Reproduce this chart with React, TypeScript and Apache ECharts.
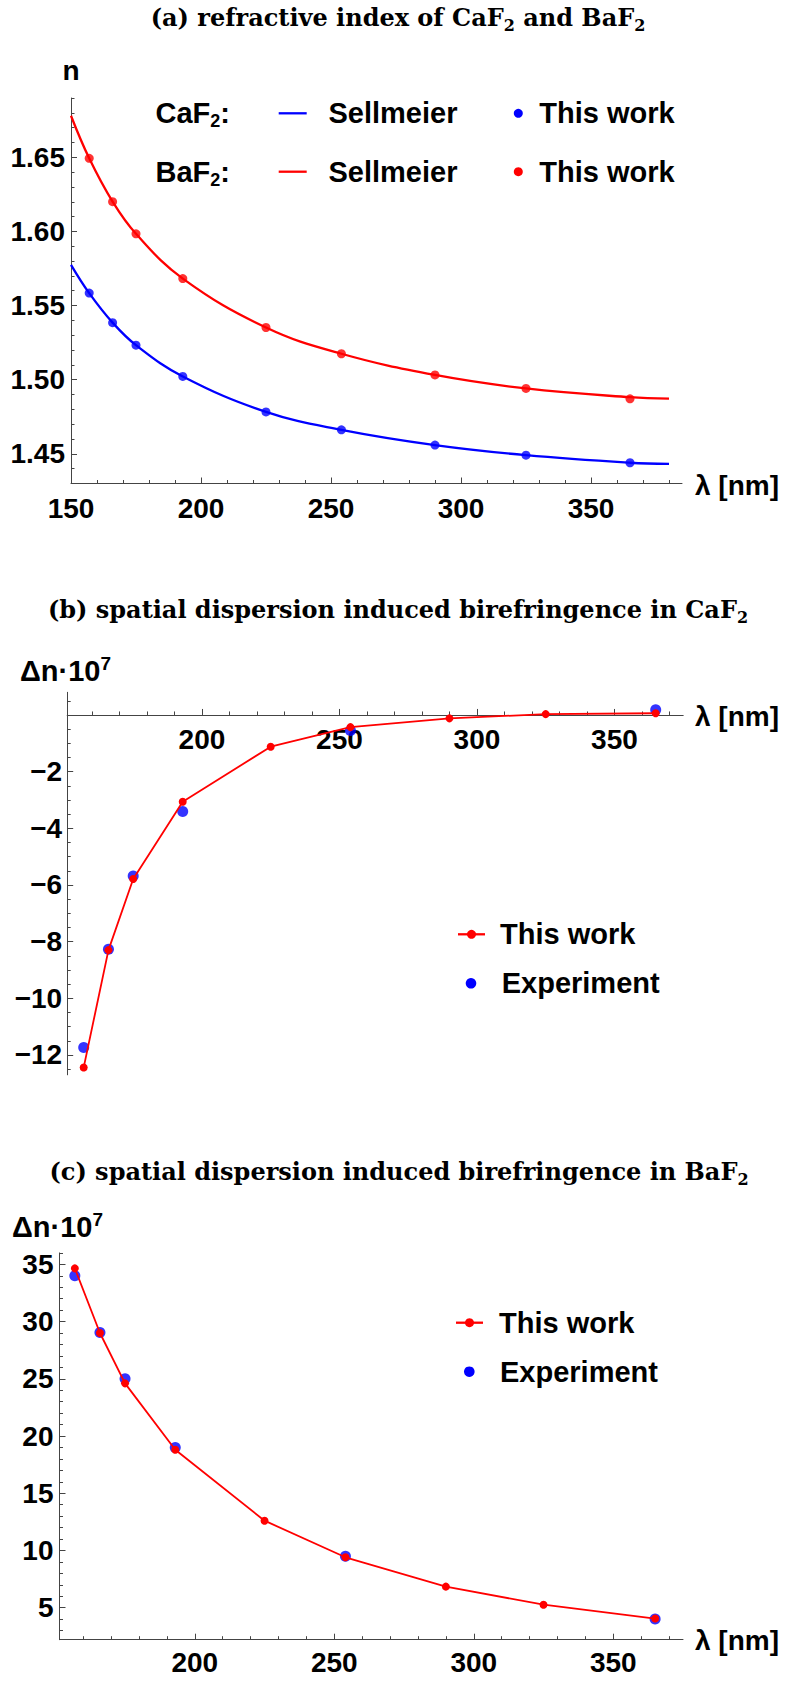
import React, { useEffect, useRef } from 'react';
import * as echarts from 'echarts';

// ---------- Panel (a): refractive index ----------
const wlPoints = [157, 166, 175, 193, 225, 254, 290, 325, 365];
const caf2ThisWork = [1.5584, 1.5385, 1.5233, 1.5022, 1.4783, 1.4662, 1.4559, 1.4491, 1.444];
const baf2ThisWork = [1.6493, 1.6201, 1.5984, 1.5682, 1.5352, 1.5175, 1.5032, 1.4941, 1.4871];
const wlSellmeier = [150, 157, 166, 175, 193, 225, 254, 290, 325, 365, 380];
const caf2Sellmeier = [1.5775, 1.5584, 1.5385, 1.5233, 1.5022, 1.4783, 1.4662, 1.4559, 1.4491, 1.444, 1.4432];
const baf2Sellmeier = [1.678, 1.6493, 1.6201, 1.5984, 1.5682, 1.5352, 1.5175, 1.5032, 1.4941, 1.4882, 1.4872];

const aXMajor = [150, 200, 250, 300, 350];
const aXMinor = [160, 170, 180, 190, 210, 220, 230, 240, 260, 270, 280, 290, 310, 320, 330, 340, 360, 370, 380];
const aYMajor = [1.45, 1.5, 1.55, 1.6, 1.65];
const aYMinor = [1.43, 1.44, 1.46, 1.47, 1.48, 1.49, 1.51, 1.52, 1.53, 1.54, 1.56, 1.57, 1.58, 1.59, 1.61, 1.62, 1.63, 1.64, 1.66, 1.67, 1.68, 1.69];

// ---------- Panel (b): CaF2 birefringence ----------
const wlThisWork = [157, 166, 175, 193, 225, 254, 290, 325, 365];
const wlExperiment = [157, 166, 175, 193, 254, 365];
const caf2DnThisWork = [-12.44, -8.3, -5.79, -3.06, -1.12, -0.43, -0.12, 0.03, 0.06];
const caf2DnExperiment = [-11.74, -8.27, -5.68, -3.41, -0.55, 0.18];

const bcXMajor = [200, 250, 300, 350];
const bcXMinor = [160, 170, 180, 190, 210, 220, 230, 240, 260, 270, 280, 290, 310, 320, 330, 340, 360, 370];
const bYMajor = [-12, -10, -8, -6, -4, -2];
const bYMinor = [-12.5, -11.5, -11, -10.5, -9.5, -9, -8.5, -7.5, -7, -6.5, -5.5, -5, -4.5, -3.5, -3, -2.5, -1.5, -1, -0.5, 0.5];

// ---------- Panel (c): BaF2 birefringence ----------
const baf2DnThisWork = [34.65, 29.0, 24.6, 18.8, 12.6, 9.4, 6.84, 5.26, 4.05];
const baf2DnExperiment = [34.0, 29.04, 25.0, 19.0, 9.5, 4.0];

const cYMajor = [5, 10, 15, 20, 25, 30, 35];
const cYMinor = [3, 4, 6, 7, 8, 9, 11, 12, 13, 14, 16, 17, 18, 19, 21, 22, 23, 24, 26, 27, 28, 29, 31, 32, 33, 34, 36];

const BLUE = '#0000ff';
const RED = '#ff0000';
const AXIS = '#444444';
const SANS = 'Liberation Sans';
const SERIF = 'DejaVu Serif';

const labelFont = { fontFamily: SANS, fontWeight: 'bold' as const, fontSize: 28, color: '#000' };

const zip = (xs: number[], ys: number[]) => xs.map((x, i) => [x, ys[i]]);

function makeAxes(dim: 'x' | 'y', grid: number, min: number, max: number, major: number[], minor: number[], margin: number, formatter: (v: number) => string, offset = 0) {
  const position = dim === 'x' ? 'bottom' : 'left';
  return [
    {
      type: 'value', gridIndex: grid, position, min, max, offset,
      splitLine: { show: false },
      axisLine: { show: true, onZero: false, lineStyle: { color: AXIS, width: 1 } },
      axisTick: { show: true, inside: true, length: 6, customValues: major, lineStyle: { color: AXIS, width: 1 } },
      axisLabel: { show: true, customValues: major, margin, ...labelFont, formatter },
    },
    {
      type: 'value', gridIndex: grid, position, min, max, offset,
      splitLine: { show: false },
      axisLine: { show: false, onZero: false },
      axisTick: { show: true, inside: true, length: 3.5, customValues: minor, lineStyle: { color: AXIS, width: 1 } },
      axisLabel: { show: false },
    },
  ];
}

const fmtInt = (v: number) => String(Math.round(v));
const fmt2 = (v: number) => v.toFixed(2);
const fmtMinus = (v: number) => String(Math.round(v)).replace('-', '\u2212');

const titleRich = {
  t: { fontFamily: SERIF, fontWeight: 'bold', fontSize: 24, lineHeight: 32, fill: '#000' },
  s: { fontFamily: SERIF, fontWeight: 'bold', fontSize: 16, lineHeight: 16, verticalAlign: 'bottom', fill: '#000' },
};
const sansRich = {
  m: { fontFamily: SANS, fontWeight: 'bold', fontSize: 29, lineHeight: 34, fill: '#000' },
  s: { fontFamily: SANS, fontWeight: 'bold', fontSize: 18, lineHeight: 16, verticalAlign: 'bottom', fill: '#000' },
  p: { fontFamily: SANS, fontWeight: 'bold', fontSize: 19, lineHeight: 15, verticalAlign: 'top', fill: '#000' },
};

function richText(x: number, y: number, text: string, rich: any, align: string) {
  return {
    type: 'text', x, y,
    style: { text, rich, align, verticalAlign: 'middle', textAlign: align, textVerticalAlign: 'middle' },
  };
}
function plainText(x: number, y: number, text: string, size: number, align = 'left') {
  return {
    type: 'text', x, y,
    style: {
      text, fontFamily: SANS, fontWeight: 'bold', fontSize: size, fill: '#000',
      align, verticalAlign: 'middle', textAlign: align, textVerticalAlign: 'middle',
    },
  };
}
function legendLine(x1: number, x2: number, y: number, color: string) {
  return { type: 'line', shape: { x1, y1: y, x2, y2: y }, style: { stroke: color, lineWidth: 2.3 } };
}
function legendDot(cx: number, cy: number, r: number, color: string) {
  return { type: 'circle', shape: { cx, cy, r }, style: { fill: color } };
}

// grid geometry (pixels)
const GB = { top: 692.3, height: 382.5 };
const B_YMIN = -12.7;
const B_YMAX = 0.8;

export default function App() {
  const ref = useRef<HTMLDivElement>(null);
  useEffect(() => {
    document.body.style.margin = '0';
    const chart = echarts.init(ref.current!, null, { renderer: 'svg' });

    // x axis of panel (b) sits on the zero line: shift it up from the grid bottom
    const zeroOffset = -(GB.height * (0 - B_YMIN) / (B_YMAX - B_YMIN));

    const xA = makeAxes('x', 0, 150, 385, aXMajor, aXMinor, 11, fmtInt);
    const yA = makeAxes('y', 0, 1.43, 1.69, aYMajor, aYMinor, 6, fmt2);
    const xB = makeAxes('x', 1, 151, 375, bcXMajor, bcXMinor, 11, fmtInt, zeroOffset);
    const yB = makeAxes('y', 1, B_YMIN, B_YMAX, bYMajor, bYMinor, 5, fmtMinus);
    const xC = makeAxes('x', 2, 151.5, 375, bcXMajor, bcXMinor, 9, fmtInt);
    const yC = makeAxes('y', 2, 2.2, 36, cYMajor, cYMinor, 6, fmtInt);

    const lineSmooth = 0.4;

    const option: any = {
      animation: false,
      backgroundColor: '#ffffff',
      textStyle: { fontFamily: SANS },
      grid: [
        { left: 71, top: 98, width: 611, height: 385.5, containLabel: false, outerBoundsMode: 'none' },
        { left: 67.2, top: GB.top, width: 616, height: GB.height, containLabel: false, outerBoundsMode: 'none' },
        { left: 59.5, top: 1252.9, width: 623.5, height: 386.8, containLabel: false, outerBoundsMode: 'none' },
      ],
      xAxis: [...xA, ...xB, ...xC],
      yAxis: [...yA, ...yB, ...yC],
      series: [
        {
          name: 'CaF2 Sellmeier', type: 'line', xAxisIndex: 0, yAxisIndex: 0,
          data: zip(wlSellmeier, caf2Sellmeier), smooth: lineSmooth, showSymbol: false,
          lineStyle: { color: BLUE, width: 2.3 }, itemStyle: { color: BLUE },
        },
        {
          name: 'BaF2 Sellmeier', type: 'line', xAxisIndex: 0, yAxisIndex: 0,
          data: zip(wlSellmeier, baf2Sellmeier), smooth: lineSmooth, showSymbol: false,
          lineStyle: { color: RED, width: 2.3 }, itemStyle: { color: RED },
        },
        {
          name: 'CaF2 This work', type: 'scatter', xAxisIndex: 0, yAxisIndex: 0,
          data: zip(wlPoints, caf2ThisWork), symbol: 'circle', symbolSize: 9, itemStyle: { color: BLUE },
        },
        {
          name: 'BaF2 This work', type: 'scatter', xAxisIndex: 0, yAxisIndex: 0,
          data: zip(wlPoints, baf2ThisWork), symbol: 'circle', symbolSize: 9, itemStyle: { color: RED },
        },
        {
          name: 'CaF2 Δn This work', type: 'line', xAxisIndex: 2, yAxisIndex: 2,
          data: zip(wlThisWork, caf2DnThisWork), symbol: 'circle', symbolSize: 8, showSymbol: true,
          lineStyle: { color: RED, width: 1.8 }, itemStyle: { color: RED },
        },
        {
          name: 'CaF2 Δn Experiment', type: 'scatter', xAxisIndex: 2, yAxisIndex: 2,
          data: zip(wlExperiment, caf2DnExperiment), symbol: 'circle', symbolSize: 11, itemStyle: { color: BLUE },
        },
        {
          name: 'BaF2 Δn This work', type: 'line', xAxisIndex: 4, yAxisIndex: 4,
          data: zip(wlThisWork, baf2DnThisWork), symbol: 'circle', symbolSize: 8, showSymbol: true,
          lineStyle: { color: RED, width: 1.8 }, itemStyle: { color: RED },
        },
        {
          name: 'BaF2 Δn Experiment', type: 'scatter', xAxisIndex: 4, yAxisIndex: 4,
          data: zip(wlExperiment, baf2DnExperiment), symbol: 'circle', symbolSize: 11, itemStyle: { color: BLUE },
        },
      ],
      graphic: [
        // titles
        richText(398, 17, '{t|(a) refractive index of CaF}{s|2}{t| and BaF}{s|2}', titleRich, 'center'),
        richText(398, 609, '{t|(b) spatial dispersion induced birefringence in CaF}{s|2}', titleRich, 'center'),
        richText(399, 1171, '{t|(c) spatial dispersion induced birefringence in BaF}{s|2}', titleRich, 'center'),
        // axis names
        plainText(71, 70, 'n', 28, 'center'),
        plainText(695, 485, 'λ [nm]', 28),
        plainText(695, 716, 'λ [nm]', 28),
        plainText(695, 1640, 'λ [nm]', 28),
        richText(20, 671, '{m|Δn·10}{p|7}', sansRich, 'left'),
        richText(12, 1227, '{m|Δn·10}{p|7}', sansRich, 'left'),
        // legend (a)
        richText(155.5, 113.3, '{m|CaF}{s|2}{m|:}', sansRich, 'left'),
        legendLine(278.7, 306.7, 113.3, BLUE),
        plainText(328.5, 113.3, 'Sellmeier', 29),
        legendDot(518.3, 113.3, 4.5, BLUE),
        plainText(539.3, 113.3, 'This work', 29),
        richText(155.5, 171.7, '{m|BaF}{s|2}{m|:}', sansRich, 'left'),
        legendLine(278.7, 306.7, 171.7, RED),
        plainText(328.5, 171.7, 'Sellmeier', 29),
        legendDot(518.3, 171.7, 4.5, RED),
        plainText(539.3, 171.7, 'This work', 29),
        // legend (b)
        legendLine(458, 485, 934.3, RED),
        legendDot(471.5, 934.3, 4.5, RED),
        plainText(500, 934.3, 'This work', 29),
        legendDot(471, 983.3, 5.3, BLUE),
        plainText(501.7, 983.3, 'Experiment', 29),
        // legend (c)
        legendLine(456, 483, 1322.7, RED),
        legendDot(469.5, 1322.7, 4.5, RED),
        plainText(499, 1322.7, 'This work', 29),
        legendDot(469.3, 1371.7, 5.3, BLUE),
        plainText(500, 1371.7, 'Experiment', 29),
      ],
    };
    chart.setOption(option);
    return () => chart.dispose();
  }, []);
  return <div ref={ref} style={{ width: 787, height: 1681 }} />;
}
